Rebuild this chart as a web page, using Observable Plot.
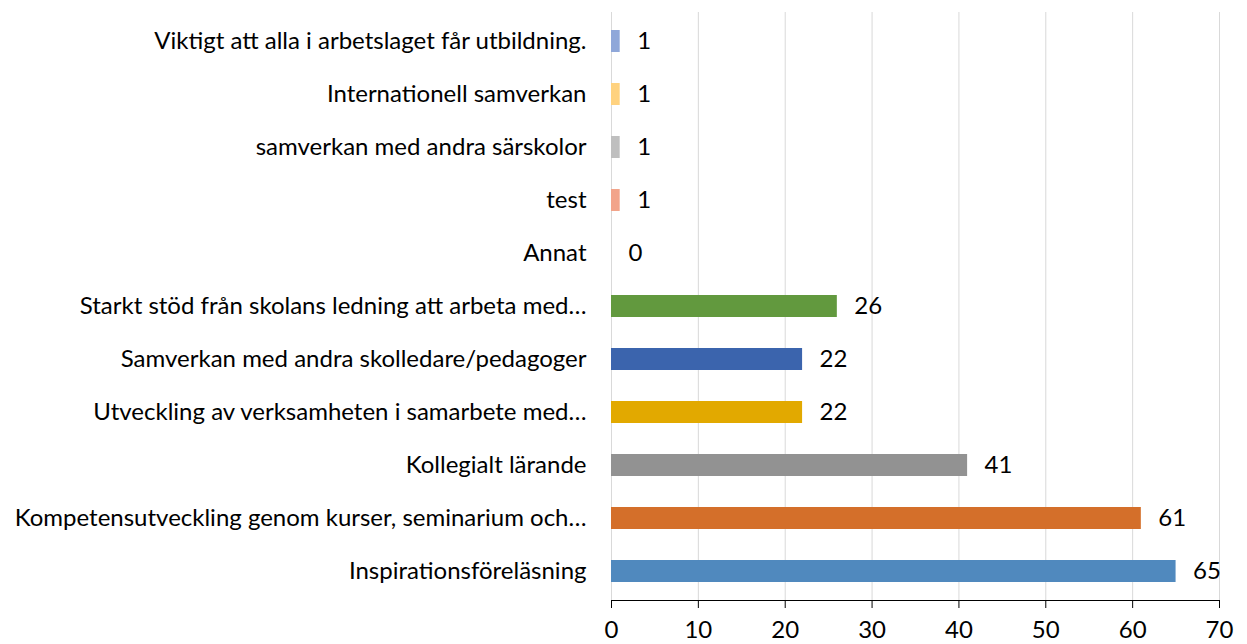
<!DOCTYPE html>
<html>
<head>
<meta charset="utf-8">
<script src="https://cdn.jsdelivr.net/npm/d3@7"></script>
<script src="https://cdn.jsdelivr.net/npm/@observablehq/plot@0.6"></script>
<style>
  html, body { margin: 0; padding: 0; background: #fff; }
  #chart { width: 1247px; height: 644px; overflow: hidden; }
</style>
</head>
<body>
<div id="chart"></div>
<script>
const categories = [
  "Viktigt att alla i arbetslaget får utbildning.",
  "Internationell samverkan",
  "samverkan med andra särskolor",
  "test",
  "Annat",
  "Starkt stöd från skolans ledning att arbeta med…",
  "Samverkan med andra skolledare/pedagoger",
  "Utveckling av verksamheten i samarbete med…",
  "Kollegialt lärande",
  "Kompetensutveckling genom kurser, seminarium och…",
  "Inspirationsföreläsning"
];
const values = [1, 1, 1, 1, 0, 26, 22, 22, 41, 61, 65];
const colors = ["#8FA7D9", "#FFD27F", "#BFBFBF", "#F2A48A", "#A5A5A5", "#62993E", "#3B64AD", "#E2A900", "#929292", "#D46F2A", "#5089BE"];
const xTicks = [0, 10, 20, 30, 40, 50, 60, 70];

const data = categories.map((c, i) => ({category: c, value: values[i], color: colors[i]}));

const chart = Plot.plot({
  width: 1247,
  height: 644,
  marginLeft: 611,
  marginRight: 28,
  marginTop: 12,
  marginBottom: 44,
  style: {fontFamily: "Lato, 'Open Sans', sans-serif", fontSize: "24px", color: "#000", background: "#fff"},
  x: {domain: [0, 70], ticks: xTicks},
  y: {domain: categories, paddingInner: 0.59, paddingOuter: 0.295},
  marks: [
    Plot.gridX(xTicks, {stroke: "#D9D9D9", strokeOpacity: 1, strokeWidth: 1}),
    Plot.barX(data, {y: "category", x: "value", fill: "color"}),
    Plot.text(data, {y: "category", x: "value", text: d => String(d.value), dx: 17, textAnchor: "start", fontSize: 24, fill: "#000"}),
    Plot.frame({anchor: "bottom", stroke: "#000", strokeWidth: 1}),
    Plot.axisX({ticks: xTicks, tickSize: 8, tickPadding: 12, fontSize: 24, stroke: "#000", label: null}),
    Plot.axisY({tickSize: 0, tickPadding: 25, fontSize: 24, label: null, textOverflow: null})
  ]
});
document.getElementById("chart").appendChild(chart);
</script>
</body>
</html>
